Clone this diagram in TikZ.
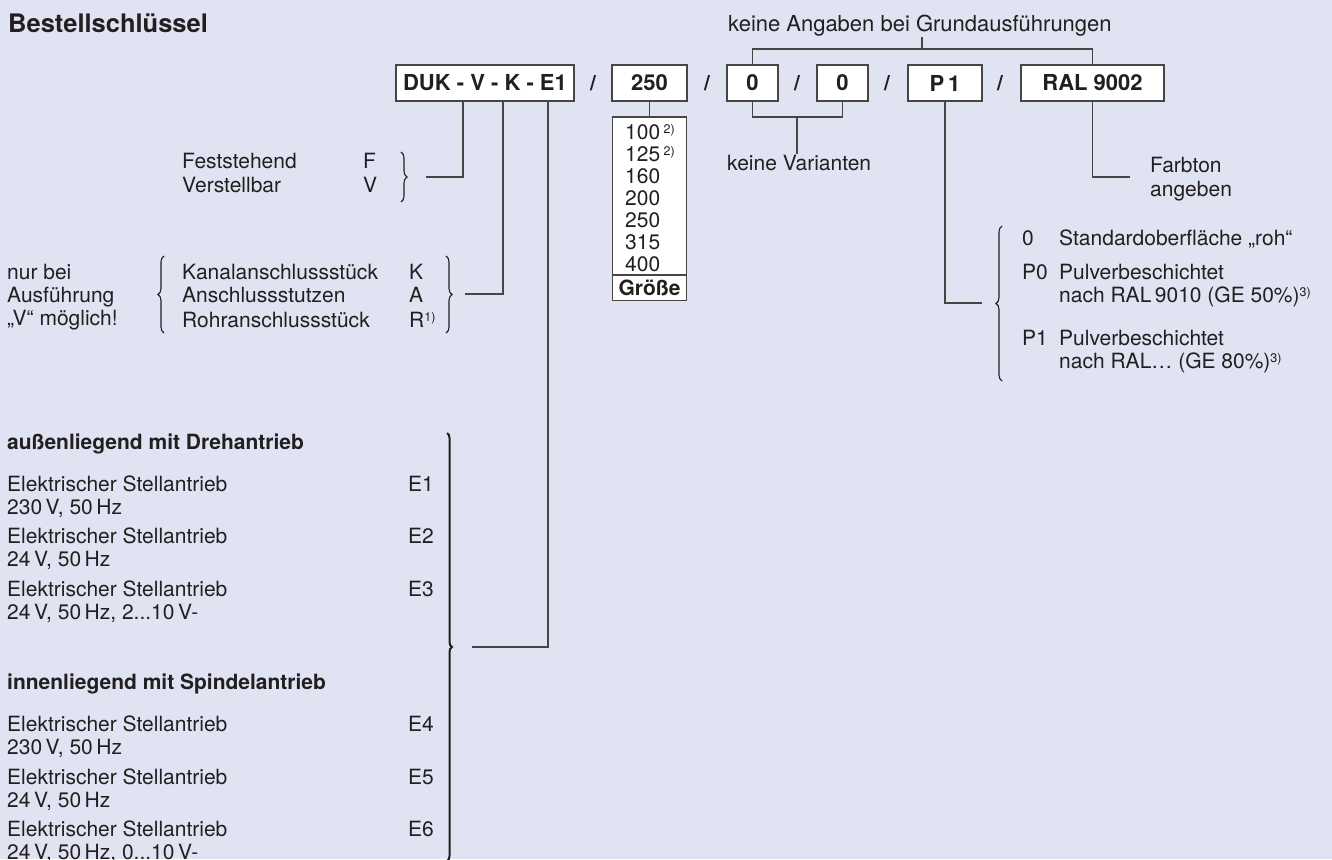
\documentclass[tikz,border=0pt]{standalone}
\usepackage{fontspec}
\setmainfont{TeX Gyre Heros}
\usepackage{tikz}
\usetikzlibrary{decorations.pathreplacing}

\definecolor{grundton}{RGB}{224,227,242}
\definecolor{tinte}{RGB}{35,31,32}
\definecolor{strich}{RGB}{70,70,70}
\newcommand{\hoch}[1]{\raisebox{6pt}{\fontsize{12.5}{12.5}\selectfont #1}}

\tikzset{
  txt/.style={anchor=base west, inner sep=0pt, text=tinte},
  txtb/.style={txt, font=\fontsize{21}{25}\selectfont\bfseries},
  feld/.style={draw=strich, fill=white, line width=1.2pt, inner sep=0pt, minimum height=36pt, text=tinte, font=\fontsize{22}{26}\selectfont\bfseries},
  conn/.style={draw=strich, line width=1.2pt},
  klammer/.style={draw=tinte, line width=1.1pt, decorate, decoration={brace, amplitude=6pt}},
}

\begin{document}
\begin{tikzpicture}[x=1pt, y=-1pt, font=\fontsize{21}{25}\selectfont]
  \useasboundingbox (0,0) rectangle (1332,859);
  \fill[grundton] (0,0) rectangle (1332,859);
  \clip (0,0) rectangle (1332,859);

  % Kopfzeile
  \draw (8,33) node[txt, font=\fontsize{25.5}{30}\selectfont\bfseries] (titel) {Bestellschlüssel};
  \draw (728,32) node[txt, font=\fontsize{22}{26}\selectfont] (angaben) {keine Angaben bei Grundausführungen};

  % Schluesselfelder
  \draw (485,83) node[feld, minimum width=178pt] (duk) {DUK - V - K - E1};
  \draw (593,83) node[txtb, anchor=center] (s1) {/};
  \draw (649.5,83) node[feld, minimum width=75pt] (groesse) {250};
  \draw (707,83) node[txtb, anchor=center] (s2) {/};
  \draw (752.5,83) node[feld, minimum width=51pt] (var1) {0};
  \draw (797,83) node[txtb, anchor=center] (s3) {/};
  \draw (842.5,83) node[feld, minimum width=51pt] (var2) {0};
  \draw (887,83) node[txtb, anchor=center] (s4) {/};
  \draw (945,83) node[feld, minimum width=74pt] (ober) {P\,1};
  \draw (1000,83) node[txtb, anchor=center] (s5) {/};
  \draw (1092.5,83) node[feld, minimum width=143pt] (farbe) {RAL 9002};

  % Grundausfuehrungen
  \coordinate (angabenfuss) at (922,49);
  \draw[conn] (angaben.south -| angabenfuss) -- (angabenfuss);
  \draw[conn] (var1.north) |- (angabenfuss) -| (farbe.north);

  % Varianten
  \draw (727,170) node[txt] (varianten) {keine Varianten};
  \coordinate (varmitte) at (797,117);
  \draw[conn] (var1.south) |- (varmitte) -| (var2.south);
  \draw[conn] (varmitte) -- (varianten.north -| varmitte);

  % Groessen
  \draw (649.5,196) node[feld, minimum width=74pt, minimum height=158pt] (liste) {};
  \draw[conn] (groesse.south) -- (liste.north);
  \draw (625,139) node[txt] (g100) {100\,\hoch{2)}};
  \draw (625,161) node[txt] (g125) {125\,\hoch{2)}};
  \draw (625,183) node[txt] (g160) {160};
  \draw (625,205) node[txt] (g200) {200};
  \draw (625,227) node[txt] (g250) {250};
  \draw (625,249) node[txt] (g315) {315};
  \draw (625,271) node[txt] (g400) {400};
  \draw (649.5,288) node[feld, minimum width=74pt, minimum height=25pt, font=\fontsize{21}{25}\selectfont\bfseries] (groessetitel) {Größe};

  % Abzweige vom Typfeld
  \coordinate (xV) at (463,0);
  \coordinate (xK) at (503,0);
  \coordinate (xE) at (548,0);
  \coordinate (fvspitze) at (426,177);
  \coordinate (karspitze) at (465,294);
  \coordinate (espitze) at (472,647);
  \draw[conn] (duk.south -| xV) |- (fvspitze);
  \draw[conn] (duk.south -| xK) |- (karspitze);
  \draw[conn] (duk.south -| xE) |- (espitze);

  % Feststehend / Verstellbar
  \draw (182,168) node[txt] (fest) {Feststehend};
  \draw (363,168) node[txt] (festF) {F};
  \draw (182,192) node[txt] (verst) {Verstellbar};
  \draw (363,192) node[txt] (verstV) {V};
  \draw[klammer] (401,152) -- (401,202);

  % Anschluss
  \draw (7,279) node[txt] (nur) {nur bei};
  \draw (7,302) node[txt] (ausf) {Ausführung};
  \draw (7,325) node[txt] (moegl) {„V“ möglich!};
  \draw[klammer] (164,333) -- (164,256);
  \draw (182,279) node[txt] (kanal) {Kanalanschlussstück};
  \draw (409,279) node[txt] (kanalK) {K};
  \draw (182,302) node[txt] (stutzen) {Anschlussstutzen};
  \draw (409,302) node[txt] (stutzenA) {A};
  \draw (182,327) node[txt] (rohr) {Rohranschlussstück};
  \draw (409,327) node[txt] (rohrR) {R\hoch{1)}};
  \draw[klammer] (446,256) -- (446,333);

  % Antriebe
  \draw (7,449) node[txtb] (aussen) {außenliegend mit Drehantrieb};
  \draw (7,491) node[txt] (a1) {Elektrischer Stellantrieb};
  \draw (408,491) node[txt] (e1) {E1};
  \draw (7,514) node[txt] (a1v) {230\,V, 50\,Hz};
  \draw (7,543) node[txt] (a2) {Elektrischer Stellantrieb};
  \draw (408,543) node[txt] (e2) {E2};
  \draw (7,566) node[txt] (a2v) {24\,V, 50\,Hz};
  \draw (7,596) node[txt] (a3) {Elektrischer Stellantrieb};
  \draw (408,596) node[txt] (e3) {E3};
  \draw (7,619) node[txt] (a3v) {24\,V, 50\,Hz, 2...10\,V-};
  \draw (7,689) node[txtb] (innen) {innenliegend mit Spindelantrieb};
  \draw (7,731) node[txt] (a4) {Elektrischer Stellantrieb};
  \draw (408,731) node[txt] (e4) {E4};
  \draw (7,754) node[txt] (a4v) {230\,V, 50\,Hz};
  \draw (7,784) node[txt] (a5) {Elektrischer Stellantrieb};
  \draw (408,784) node[txt] (e5) {E5};
  \draw (7,807) node[txt] (a5v) {24\,V, 50\,Hz};
  \draw (7,836) node[txt] (a6) {Elektrischer Stellantrieb};
  \draw (408,836) node[txt] (e6) {E6};
  \draw (7,859) node[txt] (a6v) {24\,V, 50\,Hz, 0...10\,V-};
  \draw[klammer, line width=2pt, decoration={brace, amplitude=5pt}] (447,433) -- (447,861);

  % Oberflaeche
  \coordinate (oberspitze) at (982,303);
  \draw[conn] (ober.south) |- (oberspitze);
  \draw[klammer] (1002,381) -- (1002,226);
  \draw (1022,245) node[txt] (o0) {0};
  \draw (1059,245) node[txt] (o0t) {Standardoberfläche „roh“};
  \draw (1022,279) node[txt] (op0) {P0};
  \draw (1059,279) node[txt] (op0t) {Pulverbeschichtet};
  \draw (1059,302) node[txt] (op0r) {nach RAL\,9010 (GE 50\%)\hoch{3)}};
  \draw (1022,345) node[txt] (op1) {P1};
  \draw (1059,345) node[txt] (op1t) {Pulverbeschichtet};
  \draw (1059,368) node[txt] (op1r) {nach RAL… (GE 80\%)\hoch{3)}};

  % Farbton
  \coordinate (farbspitze) at (1130,177);
  \draw[conn] (farbe.south) |- (farbspitze);
  \draw (1150,172) node[txt] (farbton) {Farbton};
  \draw (1150,196) node[txt] (angeben) {angeben};
\end{tikzpicture}
\end{document}
